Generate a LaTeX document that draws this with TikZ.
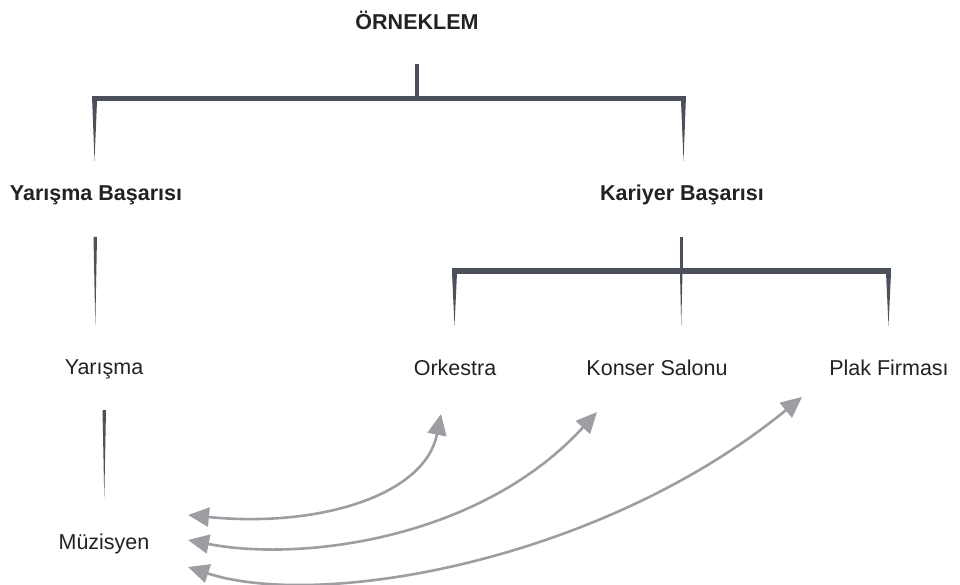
\documentclass[tikz,border=0pt]{standalone}
\usepackage{fontspec}
\setmainfont{Liberation Sans}
\usetikzlibrary{arrows.meta}
\definecolor{barc}{HTML}{4B505A}
\definecolor{arrc}{HTML}{9D9EA3}
\definecolor{txt}{HTML}{222222}
\tikzset{
  lbl/.style={font=\fontsize{21.5}{25}\selectfont, text=txt, inner sep=0pt},
  blbl/.style={lbl, font=\fontsize{21.5}{25}\selectfont\bfseries},
  barfill/.style={fill=barc, draw=none},
  link/.style={draw=arrc, line width=2.6pt, {Triangle[length=21pt,width=19pt]}-{Triangle[length=21pt,width=19pt]}}
}
\begin{document}
\begin{tikzpicture}[x=1pt,y=-1pt]
\useasboundingbox (0,0) rectangle (960,585);
% labels
\node[blbl] (root) at (417,20) {ÖRNEKLEM};
\node[blbl] (ys) at (96,195) {Yarışma Başarısı};
\node[blbl] (kb) at (682,195) {Kariyer Başarısı};
\node[lbl] (yar) at (104,369) {Yarışma};
\node[lbl] (ork) at (455,368) {Orkestra};
\node[lbl] (kon) at (657,368) {Konser Salonu};
\node[lbl] (plak) at (889,368) {Plak Firması};
\node[lbl] (muz) at (104,544) {Müzisyen};
% top bracket
\fill[barfill] (415.3,64) rectangle (419.3,99);
\fill[barfill] (92,96) rectangle (686,101.5);
\fill[barfill] (92,96) -- (97,101.5) -- (94.5,161) -- cycle;
\fill[barfill] (92,96) rectangle (97,101.5);
\fill[barfill] (686,96) -- (681,101.5) -- (683.5,161) -- cycle;
\fill[barfill] (681,96) rectangle (686,101.5);
% second bracket
\fill[barfill] (679.5,237) rectangle (683,272);
\fill[barfill] (452,268) rectangle (891,273.5);
\fill[barfill] (452,268) rectangle (457,273.5);
\fill[barfill] (452,273) -- (457,273) -- (454.5,326) -- cycle;
\fill[barfill] (680,273) -- (682.5,273) -- (681.2,326) -- cycle;
\fill[barfill] (886,273) -- (891,273) -- (888.5,326) -- cycle;
% left column tapered lines
\fill[barfill] (93.5,237) -- (97,237) -- (95.3,326) -- cycle;
\fill[barfill] (102.5,410) -- (106,410) -- (104.3,498) -- cycle;
% arrows
\coordinate (m1) at (188,515);
\coordinate (m2) at (188,540);
\coordinate (m3) at (188,567);
\coordinate (o1) at (441,414);
\coordinate (k1) at (597,412);
\coordinate (p1) at (802,397);
\draw[link] (m1) .. controls (320,528) and (425,495) .. (o1);
\draw[link] (m2) .. controls (300,562) and (480,540) .. (k1);
\draw[link] (m3) .. controls (320,610) and (600,562) .. (p1);
\end{tikzpicture}
\end{document}
